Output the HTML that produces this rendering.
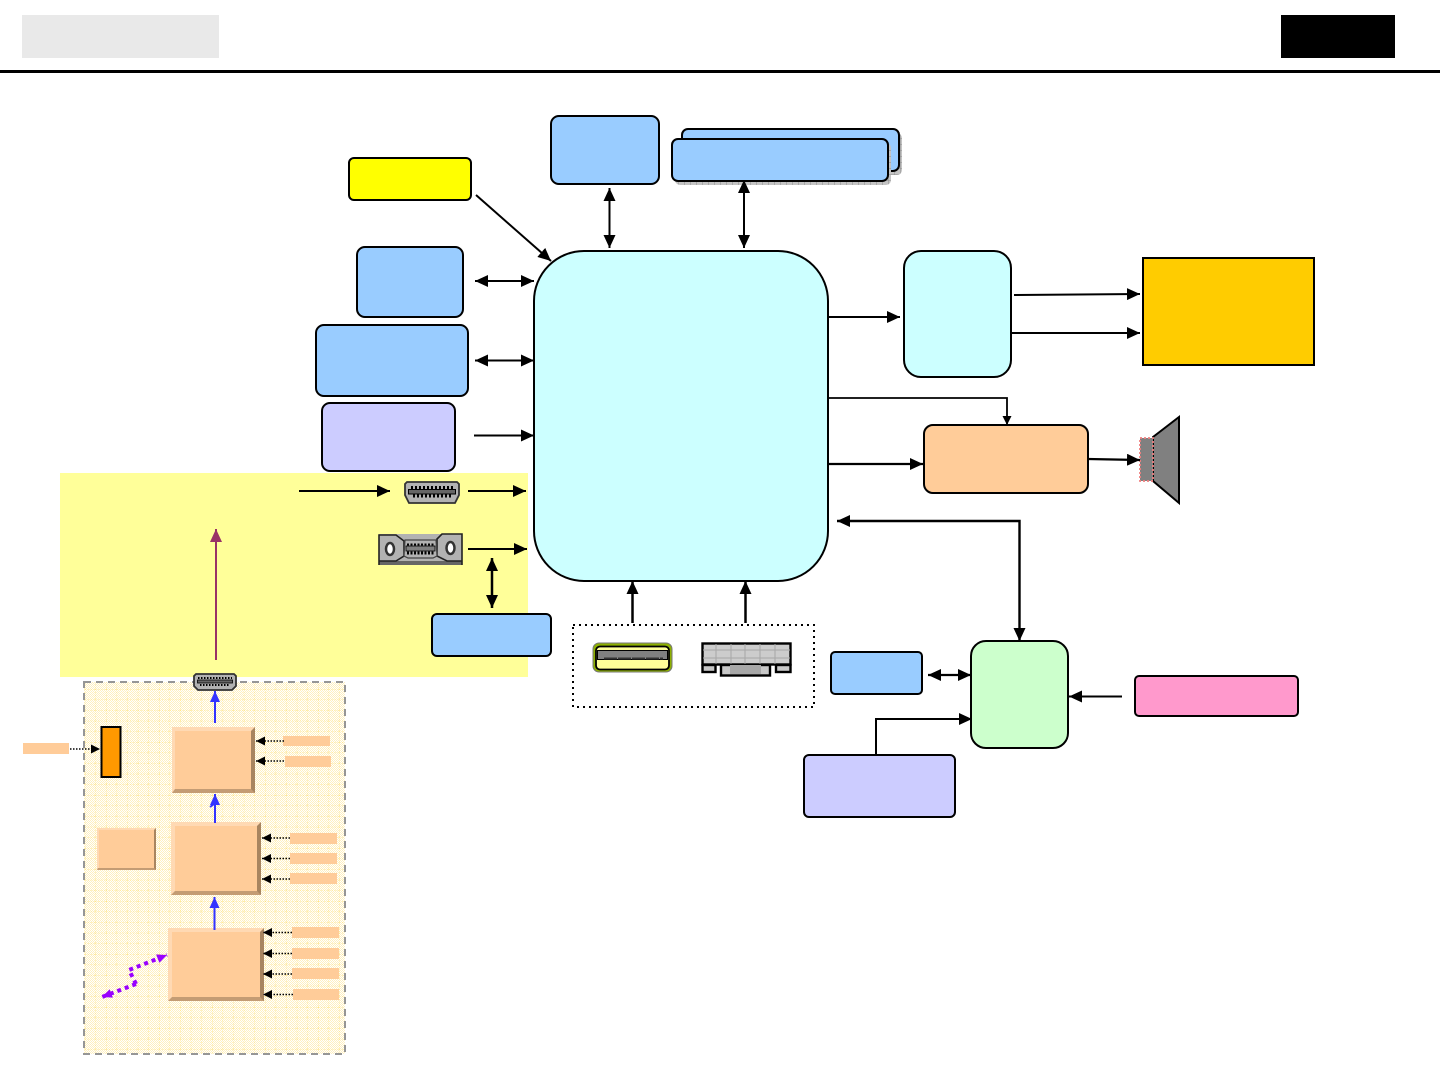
<!DOCTYPE html>
<html lang="en">
<head>
<meta charset="utf-8">
<title>Diagram</title>
<style>
html,body{margin:0;padding:0;background:#fff;width:1440px;height:1080px;overflow:hidden}
svg{display:block}
</style>
</head>
<body>
<svg width="1440" height="1080" viewBox="0 0 1440 1080" xmlns="http://www.w3.org/2000/svg">
<defs>
<marker id="a" markerUnits="userSpaceOnUse" markerWidth="14" markerHeight="12" refX="13" refY="6" orient="auto-start-reverse"><path d="M0,0L13,6L0,12z" fill="#000"/></marker>
<marker id="s" markerUnits="userSpaceOnUse" markerWidth="10" markerHeight="10" refX="9" refY="4.5" orient="auto"><path d="M0,0L9,4.5L0,9z" fill="#000"/></marker>
<marker id="b" markerUnits="userSpaceOnUse" markerWidth="12" markerHeight="10" refX="11" refY="5" orient="auto"><path d="M0,0L11,5L0,10z" fill="#3333ff"/></marker>
<marker id="m" markerUnits="userSpaceOnUse" markerWidth="14" markerHeight="12" refX="13" refY="6" orient="auto"><path d="M0,0L13,6L0,12z" fill="#993366"/></marker>
<marker id="p" markerUnits="userSpaceOnUse" markerWidth="11" markerHeight="9" refX="10" refY="4.5" orient="auto"><path d="M0,0L10,4.5L0,9z" fill="#9900ff"/></marker>
<pattern id="chk" width="2" height="2" patternUnits="userSpaceOnUse"><rect width="2" height="2" fill="#ffffff"/><rect width="1" height="1" fill="#fff0c0"/><rect x="1" y="1" width="1" height="1" fill="#fff0c0"/></pattern>
<pattern id="grd" width="10.6" height="10.6" patternUnits="userSpaceOnUse"><path d="M0,0V10.6M0,0H10.6" stroke="#ffdc5c" stroke-width="1" fill="none" stroke-dasharray="1 2"/></pattern>
<pattern id="shd" width="6" height="6" patternUnits="userSpaceOnUse"><rect width="6" height="6" fill="#c4c4c4"/><path d="M0,0V6M0,0H6" stroke="#8c8c8c" stroke-width="1"/></pattern>
</defs>

<!-- Header -->
<rect x="22" y="15" width="197" height="43" fill="#e9e9e9"/>
<rect x="1281" y="15" width="114" height="43" fill="#000"/>
<rect x="0" y="70" width="1440" height="3" fill="#000"/>

<!-- Backgrounds -->
<rect x="60" y="473" width="468" height="204" fill="#ffff99"/>
<rect x="84" y="682" width="261" height="372" fill="url(#chk)"/>
<rect x="84" y="682" width="261" height="372" fill="url(#grd)"/>
<rect x="84" y="682" width="261" height="372" fill="none" stroke="#969696" stroke-width="2" stroke-dasharray="7 5"/>

<!-- Main nodes -->
<g stroke="#000" stroke-width="2">
<rect x="551" y="116" width="108" height="68" rx="8" fill="#99ccff"/>
<rect x="685" y="133" width="217" height="42" rx="5" fill="url(#shd)" stroke="none"/>
<rect x="682" y="129" width="217" height="42" rx="6" fill="#99ccff"/>
<rect x="675" y="143" width="216" height="42" rx="5" fill="url(#shd)" stroke="none"/>
<rect x="672" y="139" width="216" height="42" rx="6" fill="#99ccff"/>
<rect x="349" y="158" width="122" height="42" rx="5" fill="#ffff00"/>
<rect x="357" y="247" width="106" height="70" rx="8" fill="#99ccff"/>
<rect x="316" y="325" width="152" height="71" rx="8" fill="#99ccff"/>
<rect x="322" y="403" width="133" height="68" rx="8" fill="#ccccff"/>
<rect x="534" y="251" width="294" height="330" rx="50" fill="#ccffff"/>
<rect x="904" y="251" width="107" height="126" rx="17" fill="#ccffff"/>
<rect x="1143" y="258" width="171" height="107" fill="#ffcc00"/>
<rect x="924" y="425" width="164" height="68" rx="9" fill="#ffcc99"/>
<rect x="432" y="614" width="119" height="42" rx="5" fill="#99ccff"/>
<rect x="831" y="652" width="91" height="42" rx="4" fill="#99ccff"/>
<rect x="971" y="641" width="97" height="107" rx="15" fill="#ccffcc"/>
<rect x="804" y="755" width="151" height="62" rx="5" fill="#ccccff"/>
<rect x="1135" y="676" width="163" height="40" rx="4" fill="#ff99cc"/>
</g>

<!-- Dotted connector group -->
<rect x="573" y="625" width="241" height="82" fill="none" stroke="#000" stroke-width="2" stroke-dasharray="2 4"/>

<!-- Speaker -->
<polygon points="1153,437 1179,417 1179,503 1153,481" fill="#808080" stroke="#000" stroke-width="2"/>
<rect x="1140" y="438" width="13" height="43" fill="#808080" stroke="#f08080" stroke-width="1.800" stroke-dasharray="2 2"/>

<!-- Connectors -->
<g fill="none" stroke="#000" stroke-width="2">
<path d="M476,195L551,261" marker-end="url(#a)"/>
<path d="M609.500,188V248" marker-start="url(#a)" marker-end="url(#a)"/>
<path d="M744,180V248" marker-start="url(#a)" marker-end="url(#a)"/>
<path d="M475,281H534" marker-start="url(#a)" marker-end="url(#a)"/>
<path d="M475,360.500H534" marker-start="url(#a)" marker-end="url(#a)"/>
<path d="M474,435.500H534" marker-end="url(#a)"/>
<path d="M299,491H390" marker-end="url(#a)"/>
<path d="M468,491H526" marker-end="url(#a)"/>
<path d="M468,549H527" marker-end="url(#a)"/>
<path d="M492,558V608" stroke-width="2.500" marker-start="url(#a)" marker-end="url(#a)"/>
<path d="M632.500,623V581" stroke-width="2.500" marker-end="url(#a)"/>
<path d="M745.500,623V581" stroke-width="2.500" marker-end="url(#a)"/>
<path d="M828,317H900" marker-end="url(#a)"/>
<path d="M1014,295L1140,294" marker-end="url(#a)"/>
<path d="M1012,333H1140" marker-end="url(#a)"/>
<path d="M829,398H1007V425" stroke-width="1.800" marker-end="url(#s)"/>
<path d="M829,464H923" stroke-width="2.200" marker-end="url(#a)"/>
<path d="M1088,459L1140,460" stroke-width="2.200" marker-end="url(#a)"/>
<path d="M837,521H1019.500V641" stroke-width="2.400" marker-start="url(#a)" marker-end="url(#a)"/>
<path d="M928,675H971" stroke-width="2.200" marker-start="url(#a)" marker-end="url(#a)"/>
<path d="M876,755V719H972" stroke-width="2" marker-end="url(#a)"/>
<path d="M1122,696.500H1069" marker-end="url(#a)"/>
</g>

<path d="M216,660V529" fill="none" stroke="#993366" stroke-width="2" marker-end="url(#m)"/>

<!-- Bevel boxes -->
<g>
<polygon points="172,727 255,727 255,793 172,793" fill="#ffd9b3"/>
<polygon points="255,727 255,793 251,793 251,731" fill="#a88560"/>
<polygon points="172,793 255,793 251,789 175,789" fill="#c49c74"/>
<rect x="175" y="731" width="76" height="58" fill="#ffcc99"/>

<polygon points="97,828 156,828 156,870 97,870" fill="#ffd9b3"/>
<polygon points="156,828 156,870 154,870 154,830" fill="#a88560"/>
<polygon points="97,870 156,870 154,868 98,868" fill="#c49c74"/>
<rect x="99" y="830" width="55" height="38" fill="#ffcc99"/>

<polygon points="171,822 261,822 261,895 171,895" fill="#ffd9b3"/>
<polygon points="261,822 261,895 257,895 257,826" fill="#a88560"/>
<polygon points="171,895 261,895 257,891 175,891" fill="#c49c74"/>
<rect x="175" y="826" width="82" height="65" fill="#ffcc99"/>

<polygon points="168,928 264,928 264,1001 168,1001" fill="#ffd9b3"/>
<polygon points="264,928 264,1001 260,1001 260,932" fill="#a88560"/>
<polygon points="168,1001 264,1001 260,997 172,997" fill="#c49c74"/>
<rect x="172" y="932" width="88" height="65" fill="#ffcc99"/>
</g>

<g fill="none" stroke="#3333ff" stroke-width="2">
<path d="M215,723V691" marker-end="url(#b)"/>
<path d="M215,823V794" marker-end="url(#b)"/>
<path d="M210,807L218,801" stroke-width="1.800"/>
<path d="M214.500,930V897" marker-end="url(#b)"/>
</g>

<!-- Small labels -->
<g fill="#ffcc99">
<rect x="23" y="743" width="46" height="11"/>
<rect x="283" y="736" width="47" height="10"/>
<rect x="285" y="756" width="46" height="11"/>
<rect x="290" y="833" width="47" height="11"/>
<rect x="290" y="853" width="47" height="11"/>
<rect x="290" y="873" width="47" height="11"/>
<rect x="292" y="927" width="47" height="11"/>
<rect x="292" y="948" width="47" height="11"/>
<rect x="292" y="968" width="47" height="11"/>
<rect x="293" y="989" width="46" height="11"/>
</g>
<rect x="101.500" y="727" width="19" height="50" fill="#ff9900" stroke="#000" stroke-width="2"/>

<!-- Dotted signal arrows -->
<g fill="none" stroke="#000" stroke-width="1.500" stroke-dasharray="1.500 1.500">
<path d="M70,749H100" marker-end="url(#s)"/>
<path d="M284,741H256" marker-end="url(#s)"/>
<path d="M284,761H256" marker-end="url(#s)"/>
<path d="M290,838H262" marker-end="url(#s)"/>
<path d="M290,858.500H262" marker-end="url(#s)"/>
<path d="M290,879H262" marker-end="url(#s)"/>
<path d="M292,932.500H263" marker-end="url(#s)"/>
<path d="M292,953.500H263" marker-end="url(#s)"/>
<path d="M292,974H263" marker-end="url(#s)"/>
<path d="M293,994.500H263" marker-end="url(#s)"/>
</g>
<path d="M136,984L102,997" fill="none" stroke="#9900ff" stroke-width="4" stroke-dasharray="4 4" marker-end="url(#p)"/>
<path d="M136,984L129,970L167,955" fill="none" stroke="#9900ff" stroke-width="4" stroke-dasharray="4 4" marker-end="url(#p)"/>

<!-- HDMI icon -->
<g>
<polygon points="407,482 457,482 459,484 459,495 455,503 409,503 405,495 405,484" fill="#b2b2b2" stroke="#333" stroke-width="1.800"/>
<rect x="408.500" y="489.500" width="47" height="4.500" fill="#666" stroke="#000"/>
<path d="M411,487.500H454" stroke="#000" stroke-width="3" stroke-dasharray="2 2" fill="none"/>
<path d="M413,496H452" stroke="#000" stroke-width="3" stroke-dasharray="2 2" fill="none"/>
</g>

<!-- Mini HDMI icon -->
<g>
<polygon points="196,674 234,674 236,676 236,686 232,690 198,690 194,686 194,676" fill="#b2b2b2" stroke="#333" stroke-width="1.800"/>
<rect x="197.500" y="680" width="35" height="3" fill="#666" stroke="#000" stroke-width=".8"/>
<path d="M198,678H232" stroke="#000" stroke-width="2" stroke-dasharray="1.500 1.500" fill="none"/>
<path d="M200,685H230" stroke="#000" stroke-width="2" stroke-dasharray="1.500 1.500" fill="none"/>
</g>

<!-- DVI icon -->
<g>
<rect x="379" y="534" width="83" height="31" fill="#b2b2b2"/>
<rect x="379" y="561" width="83" height="4" fill="#666"/>
<path d="M379,565V535H396L404,541V556L396,561H379" fill="#b2b2b2" stroke="#222" stroke-width="1.600"/>
<path d="M462,565V534H442L437,539V556L447,561H462" fill="#b2b2b2" stroke="#222" stroke-width="1.600"/>
<polygon points="405,540 436,540 437,556 433,558 408,558 404,556" fill="#b2b2b2" stroke="#444" stroke-width="1.200"/>
<rect x="406" y="546" width="29" height="5" fill="#808080" stroke="#000" stroke-width=".8"/>
<path d="M407,544.500H435" stroke="#000" stroke-width="2" stroke-dasharray="2 1.500" fill="none"/>
<path d="M407,553H435" stroke="#000" stroke-width="3" stroke-dasharray="2 1.500" fill="none"/>
<ellipse cx="390" cy="549" rx="4" ry="6" fill="#fff" stroke="#333" stroke-width="2.500"/>
<ellipse cx="450.500" cy="548" rx="4" ry="6" fill="#fff" stroke="#333" stroke-width="2.500"/>
</g>

<!-- USB icon -->
<g>
<rect x="593" y="643" width="79" height="29" rx="6" fill="#8db000" stroke="#777" stroke-width="1"/>
<rect x="596" y="646.500" width="73" height="23" rx="4" fill="#ffff99" stroke="#000" stroke-width="1.800"/>
<rect x="597.500" y="650.500" width="70" height="9" fill="#808080" stroke="#000" stroke-width="1"/>
<path d="M604,658.500H663" stroke="#333" stroke-width="2" stroke-dasharray="13 1" fill="none"/>
</g>

<!-- VGA icon -->
<g>
<rect x="702.500" y="643.500" width="88" height="21" fill="#cccccc" stroke="#000" stroke-width="2.400"/>
<path d="M716,644V664M731,644V664M745,644V664M760,644V664M775,644V664M703,650H790M703,658H790" stroke="#a6a6a6" stroke-width="1" fill="none"/>
<rect x="702.500" y="665" width="13" height="7" fill="#c8c8c8" stroke="#000" stroke-width="2.400"/>
<rect x="776" y="665" width="14.500" height="7" fill="#c8c8c8" stroke="#000" stroke-width="2.400"/>
<rect x="721" y="665" width="49" height="10.500" fill="#c8c8c8" stroke="#000" stroke-width="2.400"/>
<rect x="730" y="665" width="31" height="9" fill="#a8a8a8"/>
</g>
</svg>
</body>
</html>
